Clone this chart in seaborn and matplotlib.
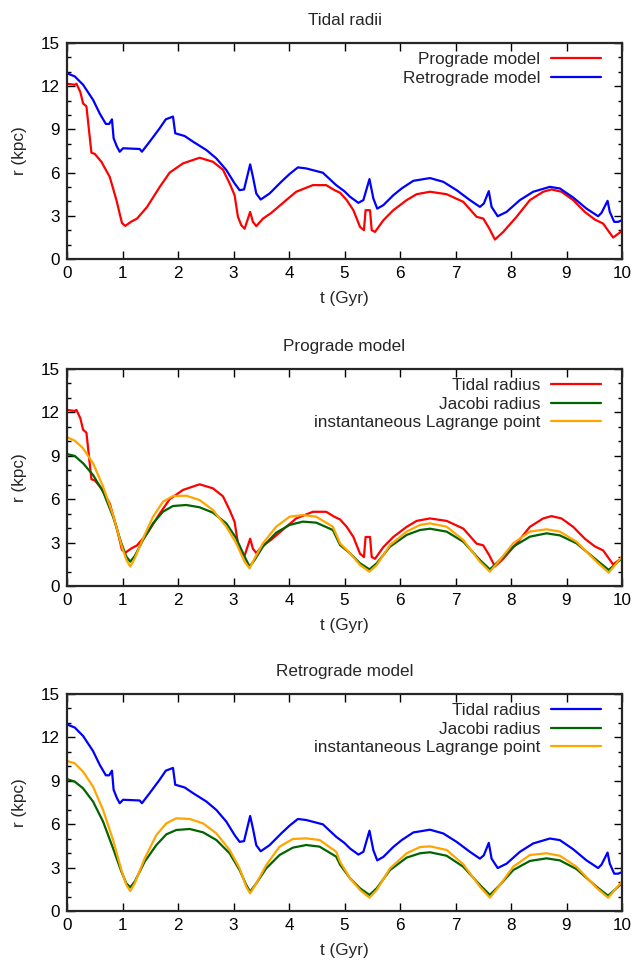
import matplotlib
matplotlib.use("Agg")
import matplotlib.pyplot as plt
from matplotlib.ticker import MultipleLocator
import seaborn as sns
import pandas as pd

# ---- data ----
t_pro_tidal = [0, 0.14, 0.17, 0.24, 0.29, 0.35, 0.44, 0.5, 0.62, 0.77, 0.89, 0.99, 1.05, 1.16, 1.26,
               1.44, 1.67, 1.85, 2.09, 2.39, 2.63, 2.81, 2.93, 3.02, 3.08, 3.14, 3.2, 3.26, 3.3, 3.35,
               3.41, 3.53, 3.68, 3.95, 4.13, 4.43, 4.67, 4.82, 4.92, 5.04, 5.16, 5.28, 5.35, 5.38,
               5.46, 5.49, 5.55, 5.70, 5.88, 6.12, 6.30, 6.54, 6.84, 7.14, 7.38, 7.50, 7.61, 7.71,
               7.86, 8.10, 8.34, 8.58, 8.73, 8.91, 9.12, 9.33, 9.51, 9.66, 9.84, 10.0]
r_pro_tidal = [12.17, 12.1, 12.17, 11.6, 10.8, 10.6, 7.38, 7.3, 6.75, 5.7, 4.1, 2.5, 2.3, 2.6, 2.8,
               3.6, 5.0, 6.0, 6.64, 7.03, 6.75, 6.2, 5.25, 4.43, 2.93, 2.35, 2.1, 2.8, 3.27, 2.58,
               2.28, 2.8, 3.2, 4.09, 4.67, 5.13, 5.13, 4.78, 4.6, 4.09, 3.39, 2.23, 2.0, 3.39,
               3.39, 2.0, 1.88, 2.69, 3.39, 4.09, 4.5, 4.67, 4.5, 3.97, 2.93, 2.81, 2.11, 1.35,
               1.88, 2.93, 4.09, 4.67, 4.83, 4.67, 4.09, 3.27, 2.74, 2.46, 1.49, 1.95]

t_ret_tidal = [0, 0.14, 0.29, 0.47, 0.59, 0.70, 0.76, 0.81, 0.84, 0.9, 0.95, 1.01, 1.31, 1.35, 1.49,
               1.67, 1.78, 1.91, 1.95, 2.12, 2.27, 2.51, 2.69, 2.87, 3.02, 3.11, 3.19, 3.30, 3.35,
               3.41, 3.49, 3.65, 3.86, 4.01, 4.16, 4.31, 4.61, 4.85, 5.0, 5.10, 5.25, 5.34, 5.45,
               5.52, 5.59, 5.70, 5.88, 6.03, 6.24, 6.54, 6.78, 7.02, 7.26, 7.44, 7.51, 7.60, 7.65,
               7.76, 7.92, 8.16, 8.40, 8.70, 8.88, 9.12, 9.36, 9.57, 9.63, 9.74, 9.78, 9.86, 9.93, 10.0]
r_ret_tidal = [12.9, 12.68, 12.1, 11.05, 10.1, 9.38, 9.38, 9.7, 8.38, 7.8, 7.45, 7.69, 7.64, 7.45, 8.15,
               9.08, 9.7, 9.89, 8.73, 8.54, 8.15, 7.57, 6.99, 6.18, 5.25, 4.78, 4.83, 6.57, 5.71,
               4.55, 4.13, 4.55, 5.36, 5.9, 6.36, 6.29, 5.99, 5.13, 4.7, 4.32, 3.9, 4.09, 5.55,
               4.2, 3.5, 3.74, 4.43, 4.9, 5.43, 5.62, 5.36, 4.78, 4.09, 3.62, 3.85, 4.71, 3.62,
               2.97, 3.27, 4.09, 4.67, 5.01, 4.9, 4.27, 3.5, 2.97, 3.2, 4.04, 3.27, 2.58, 2.58, 2.69]

t_smooth = [0, 0.14, 0.29, 0.47, 0.65, 0.83, 0.98, 1.07, 1.14, 1.22, 1.37, 1.55, 1.73, 1.91, 2.15,
            2.39, 2.63, 2.87, 3.05, 3.20, 3.29, 3.38, 3.53, 3.77, 4.01, 4.25, 4.49, 4.79, 4.92,
            5.10, 5.28, 5.45, 5.58, 5.82, 6.12, 6.36, 6.54, 6.84, 7.14, 7.44, 7.62, 7.80, 8.04,
            8.34, 8.64, 8.88, 9.18, 9.54, 9.76, 10.0]

r_pro_jacobi = [9.12, 8.99, 8.48, 7.67, 6.52, 4.79, 2.95, 2.03, 1.68, 2.07, 3.18, 4.33, 5.14, 5.53, 5.6,
                5.44, 5.07, 4.33, 3.29, 2.03, 1.34, 1.8, 2.72, 3.69, 4.22, 4.45, 4.38, 3.87, 2.83,
                2.26, 1.57, 1.15, 1.57, 2.72, 3.53, 3.87, 3.96, 3.76, 3.06, 1.8, 1.15, 1.8, 2.72,
                3.41, 3.64, 3.5, 2.95, 1.8, 1.11, 1.91]
r_pro_lagrange = [10.28, 10.05, 9.52, 8.48, 6.87, 4.91, 2.83, 1.8, 1.34, 1.91, 3.29, 4.79, 5.83, 6.22, 6.24,
                  5.94, 5.25, 4.1, 2.95, 1.68, 1.22, 1.91, 2.95, 4.1, 4.79, 4.91, 4.79, 4.1, 2.95,
                  2.26, 1.45, 0.99, 1.45, 2.83, 3.76, 4.22, 4.33, 4.1, 3.18, 1.68, 0.99, 1.8, 2.95,
                  3.76, 3.92, 3.76, 3.06, 1.68, 0.92, 2.03]

t_smooth_r = [0, 0.14, 0.29, 0.47, 0.65, 0.83, 0.98, 1.07, 1.14, 1.22, 1.40, 1.61, 1.79, 1.97, 2.21,
              2.45, 2.69, 2.93, 3.11, 3.23, 3.30, 3.41, 3.59, 3.83, 4.07, 4.31, 4.55, 4.85, 4.92,
              5.10, 5.28, 5.45, 5.58, 5.82, 6.12, 6.36, 6.54, 6.84, 7.14, 7.44, 7.62, 7.80, 8.04,
              8.34, 8.64, 8.88, 9.18, 9.54, 9.75, 10.0]
r_ret_jacobi = [9.12, 8.94, 8.48, 7.56, 6.18, 4.33, 2.72, 1.91, 1.64, 2.03, 3.41, 4.56, 5.3, 5.6, 5.67,
                5.44, 4.91, 3.99, 2.83, 1.8, 1.34, 1.91, 2.95, 3.87, 4.38, 4.56, 4.45, 3.76, 3.2,
                2.26, 1.57, 1.11, 1.57, 2.83, 3.69, 3.99, 4.06, 3.82, 3.06, 1.8, 1.11, 1.8, 2.83,
                3.46, 3.64, 3.5, 2.9, 1.68, 1.06, 1.91]
r_ret_lagrange = [10.37, 10.21, 9.63, 8.59, 6.98, 4.91, 2.83, 1.8, 1.38, 1.91, 3.64, 5.25, 6.06, 6.41, 6.36,
                  6.06, 5.37, 4.22, 2.95, 1.68, 1.22, 1.91, 3.18, 4.45, 4.98, 5.02, 4.91, 4.1, 3.4,
                  2.26, 1.45, 0.92, 1.45, 2.95, 3.99, 4.42, 4.47, 4.22, 3.23, 1.68, 0.92, 1.8, 3.06,
                  3.87, 3.99, 3.82, 3.06, 1.61, 0.92, 2.03]

titles = ["Tidal radii", "Prograde model", "Retrograde model"]
x_ticks = list(range(0, 11))
y_ticks = [0, 3, 6, 9, 12, 15]

RED, BLUE, GREEN, ORANGE = "#ff0000", "#0000ff", "#006400", "#ffa500"
FS = 12.3

sns.set_style("ticks")
plt.rcParams["font.family"] = ["Liberation Sans", "DejaVu Sans"]

fig = plt.figure(figsize=(6.35, 9.67), dpi=100)
W, H = 635, 967
boxes = [(43, 259), (369, 586), (694, 911)]
axes = []
for top, bot in boxes:
    ax = fig.add_axes([67 / W, 1 - bot / H, 555 / W, (bot - top) / H])
    axes.append(ax)

def df(t, r):
    return pd.DataFrame({"t": t, "r": r})

panels = [
    [(t_pro_tidal, r_pro_tidal, RED, "Prograde model"),
     (t_ret_tidal, r_ret_tidal, BLUE, "Retrograde model")],
    [(t_pro_tidal, r_pro_tidal, RED, "Tidal radius"),
     (t_smooth, r_pro_jacobi, GREEN, "Jacobi radius"),
     (t_smooth, r_pro_lagrange, ORANGE, "instantaneous Lagrange point")],
    [(t_ret_tidal, r_ret_tidal, BLUE, "Tidal radius"),
     (t_smooth_r, r_ret_jacobi, GREEN, "Jacobi radius"),
     (t_smooth_r, r_ret_lagrange, ORANGE, "instantaneous Lagrange point")],
]

for ax, series, title in zip(axes, panels, titles):
    for t, r, c, lab in series:
        sns.lineplot(data=df(t, r), x="t", y="r", ax=ax, color=c, lw=1.6,
                     label=lab, estimator=None, sort=False)
    ax.set_xlim(0, 10)
    ax.set_ylim(0, 15)
    ax.set_xticks(x_ticks)
    ax.set_yticks(y_ticks)
    ax.yaxis.set_minor_locator(MultipleLocator(1))
    ax.tick_params(which="both", direction="in", top=True, right=True, labelsize=FS,
                   width=1.0, colors="black")
    ax.tick_params(which="major", length=5.8, pad=5)
    ax.tick_params(which="minor", length=3)
    ax.tick_params(axis="x", which="minor", top=False, bottom=False)
    for s in ax.spines.values():
        s.set_linewidth(1.6)
        s.set_visible(True)
    ax.set_xlabel("t (Gyr)", fontsize=FS, labelpad=7)
    ax.set_ylabel("r (kpc)", fontsize=FS, labelpad=10)
    ax.set_title(title, fontsize=FS, pad=13)
    ax.legend(loc="upper right", bbox_to_anchor=(0.962, 0.957), frameon=False,
              markerfirst=False, handlelength=2.95, fontsize=FS, labelspacing=0.2,
              borderpad=0, borderaxespad=0, handletextpad=0.6)

fig.savefig("out.png", dpi=100)
